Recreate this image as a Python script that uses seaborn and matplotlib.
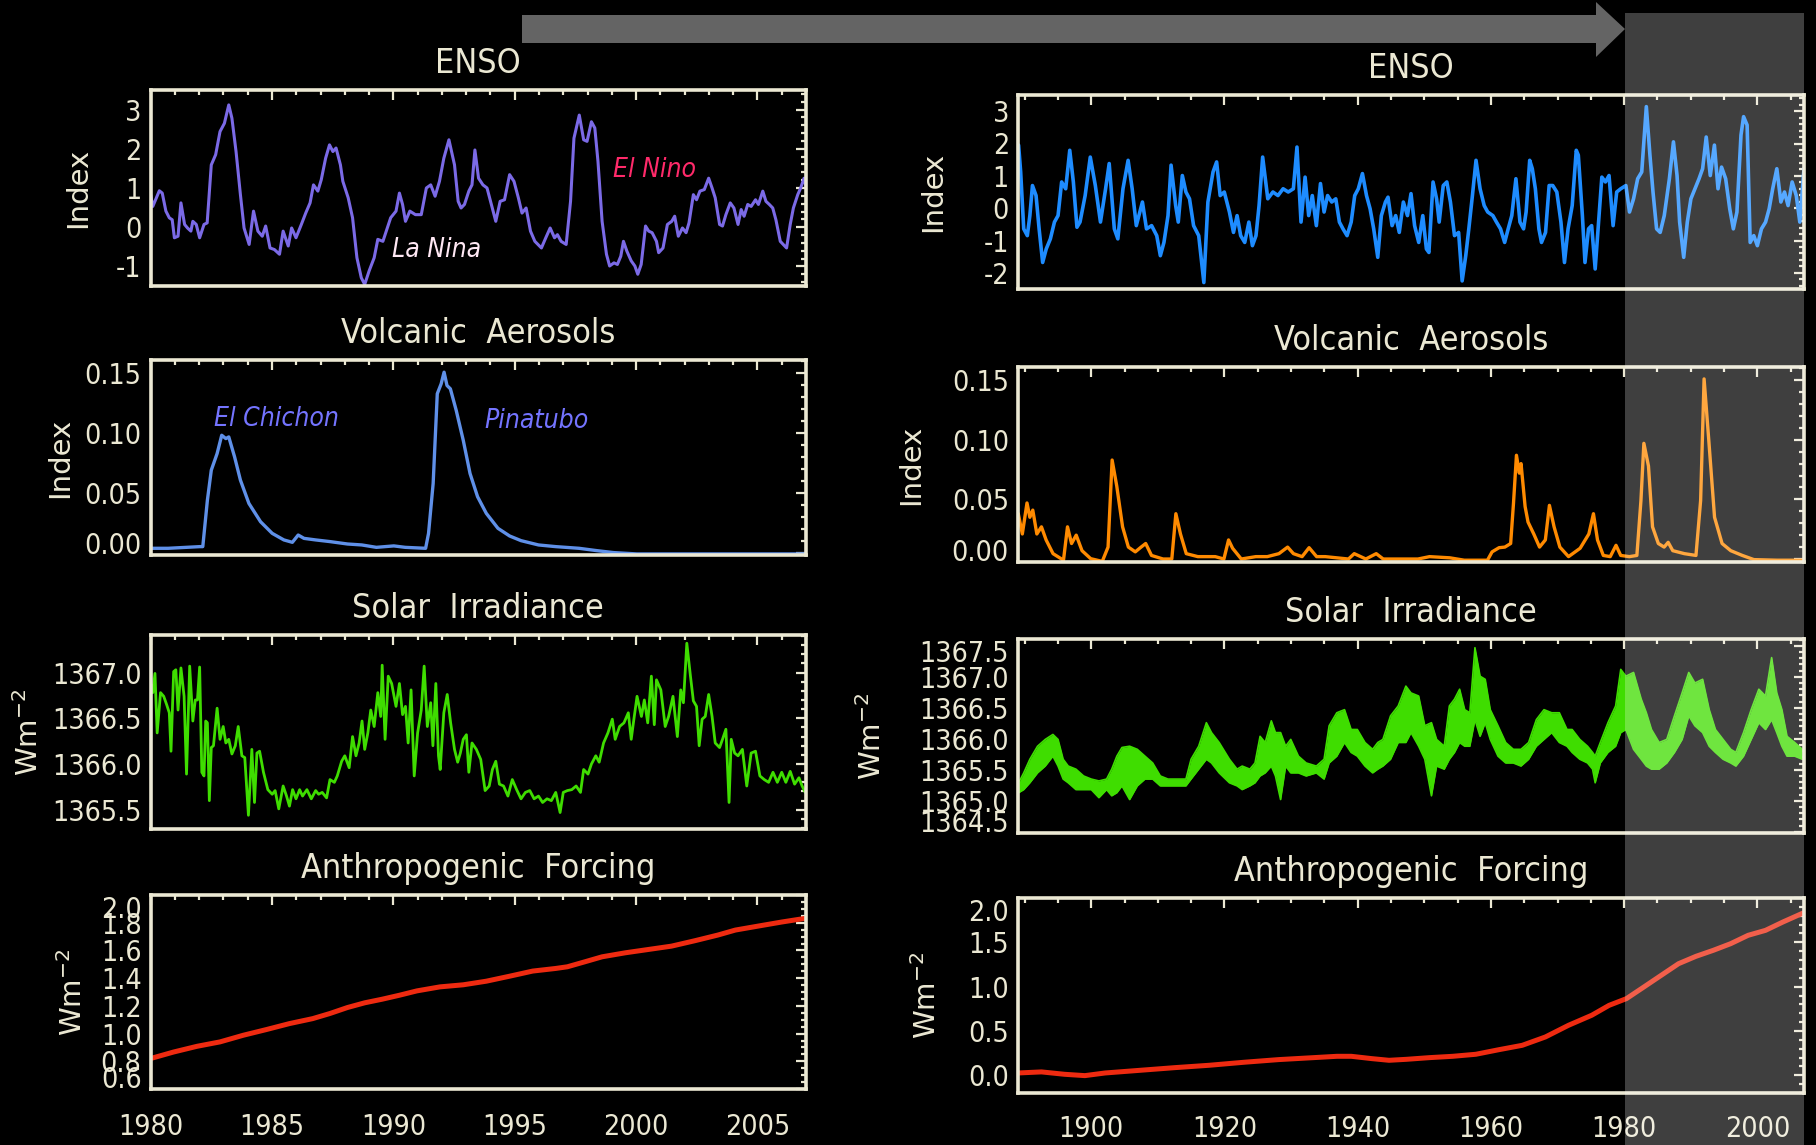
import matplotlib
matplotlib.use("Agg")
import matplotlib.pyplot as plt
from matplotlib import font_manager as fm
from matplotlib.patches import Rectangle, Polygon
from matplotlib.transforms import ScaledTranslation
from matplotlib.ticker import MultipleLocator, FixedLocator, FormatStrFormatter
import seaborn as sns

# ---------------------------------------------------------------- data
# ENSO index, 1980-2007
enso80_year = [1980.00, 1980.09, 1980.36, 1980.48, 1980.63, 1980.77, 1980.89, 1980.98, 1981.13, 1981.25,
               1981.40, 1981.52, 1981.66, 1981.74, 1981.88, 1982.02, 1982.20, 1982.33, 1982.50, 1982.68,
               1982.86, 1983.04, 1983.22, 1983.35, 1983.52, 1983.70, 1983.85, 1984.06, 1984.24, 1984.42,
               1984.60, 1984.74, 1984.92, 1985.10, 1985.31, 1985.46, 1985.67, 1985.81, 1985.99, 1986.21,
               1986.39, 1986.57, 1986.71, 1986.89, 1987.03, 1987.21, 1987.37, 1987.51, 1987.64, 1987.82,
               1987.92, 1988.14, 1988.32, 1988.50, 1988.68, 1988.82, 1989.00, 1989.21, 1989.36, 1989.57,
               1989.71, 1989.89, 1990.11, 1990.25, 1990.38, 1990.50, 1990.68, 1990.91, 1991.15, 1991.36,
               1991.54, 1991.72, 1991.90, 1992.08, 1992.29, 1992.52, 1992.67, 1992.79, 1992.93, 1993.11,
               1993.24, 1993.36, 1993.51, 1993.69, 1993.86, 1994.04, 1994.22, 1994.40, 1994.58, 1994.79,
               1994.97, 1995.15, 1995.30, 1995.47, 1995.65, 1995.83, 1996.10, 1996.28, 1996.46, 1996.64,
               1996.76, 1996.91, 1997.12, 1997.30, 1997.44, 1997.66, 1997.84, 1997.98, 1998.16, 1998.30,
               1998.43, 1998.60, 1998.78, 1998.91, 1999.09, 1999.23, 1999.37, 1999.48, 1999.62, 1999.80,
               1999.95, 2000.07, 2000.21, 2000.39, 2000.52, 2000.66, 2000.84, 2000.93, 2001.11, 2001.29,
               2001.47, 2001.59, 2001.74, 2001.91, 2002.06, 2002.18, 2002.36, 2002.49, 2002.63, 2002.81,
               2002.99, 2003.13, 2003.26, 2003.44, 2003.56, 2003.70, 2003.88, 2004.03, 2004.20, 2004.33,
               2004.45, 2004.60, 2004.74, 2004.92, 2005.04, 2005.22, 2005.35, 2005.49, 2005.63, 2005.76,
               2005.94, 2006.06, 2006.20, 2006.35, 2006.48, 2006.66, 2006.78, 2006.92, 2007.00]
enso80_index = [0.83, 0.53, 0.93, 0.87, 0.41, 0.24, 0.19, -0.27, -0.23, 0.62,
                0.07, -0.02, -0.10, 0.15, 0.07, -0.27, 0.07, 0.11, 1.59, 1.85,
                2.44, 2.65, 3.12, 2.78, 1.93, 0.83, -0.02, -0.44, 0.41, -0.10,
                -0.23, 0.03, -0.53, -0.57, -0.69, -0.10, -0.48, -0.02, -0.27, 0.07,
                0.36, 0.62, 1.08, 0.92, 1.21, 1.76, 2.10, 1.93, 2.02, 1.59,
                1.17, 0.75, 0.24, -0.78, -1.29, -1.46, -1.12, -0.78, -0.31, -0.36,
                -0.10, 0.24, 0.41, 0.87, 0.58, 0.15, 0.41, 0.32, 0.32, 1.00,
                1.08, 0.79, 1.17, 1.76, 2.23, 1.59, 0.66, 0.49, 0.58, 0.92,
                1.08, 1.97, 1.25, 1.08, 1.00, 0.58, 0.15, 0.66, 0.70, 1.34,
                1.17, 0.75, 0.36, 0.49, -0.10, -0.36, -0.53, -0.27, -0.02, -0.27,
                -0.19, -0.36, -0.44, 0.66, 2.27, 2.86, 2.23, 2.19, 2.69, 2.53,
                1.68, 0.15, -0.69, -0.99, -0.91, -0.95, -0.74, -0.36, -0.61, -0.86,
                -0.99, -1.20, -0.95, 0.03, -0.10, -0.14, -0.36, -0.65, -0.53, 0.07,
                0.15, 0.28, -0.23, -0.02, -0.14, 0.11, 0.83, 0.70, 0.92, 0.96,
                1.25, 1.00, 0.75, 0.07, 0.03, 0.32, 0.62, 0.49, 0.07, 0.45,
                0.28, 0.58, 0.53, 0.70, 0.58, 0.92, 0.66, 0.58, 0.49, 0.19,
                -0.36, -0.44, -0.53, 0.07, 0.49, 0.83, 1.00, 1.25, 1.04]

# Volcanic aerosol index, 1980-2007
volc80_year = [1980.00, 1980.72, 1982.03, 1982.15, 1982.34, 1982.50, 1982.74, 1982.93, 1983.10, 1983.22,
               1983.46, 1983.70, 1984.05, 1984.53, 1985.01, 1985.49, 1985.84, 1986.08, 1986.32, 1986.80,
               1987.39, 1988.11, 1988.70, 1989.30, 1990.02, 1990.49, 1991.33, 1991.45, 1991.64, 1991.81,
               1991.97, 1992.09, 1992.21, 1992.35, 1992.59, 1992.88, 1993.16, 1993.47, 1993.83, 1994.31,
               1994.79, 1995.26, 1995.98, 1996.69, 1997.65, 1998.36, 1999.08, 2000.03, 2007.00]
volc80_index = [0.0036, 0.0036, 0.0050, 0.0050, 0.0439, 0.0689, 0.0828, 0.0981, 0.0953, 0.0967,
                0.0800, 0.0606, 0.0411, 0.0258, 0.0161, 0.0106, 0.0086, 0.0147, 0.0119, 0.0106,
                0.0092, 0.0072, 0.0064, 0.0044, 0.0056, 0.0044, 0.0036, 0.0161, 0.0578, 0.1328,
                0.1411, 0.1508, 0.1397, 0.1369, 0.1189, 0.0939, 0.0661, 0.0467, 0.0328, 0.0203,
                0.0139, 0.0100, 0.0064, 0.0050, 0.0036, 0.0017, 0.0000, -0.0011, -0.0011]

# Total solar irradiance (W m-2), 1980-2007
solar80_year = [1980.00, 1980.09, 1980.18, 1980.27, 1980.41, 1980.54, 1980.66, 1980.77, 1980.84, 1980.95,
                1981.04, 1981.13, 1981.25, 1981.38, 1981.48, 1981.61, 1981.74, 1981.84, 1981.93, 1982.02,
                1982.11, 1982.20, 1982.27, 1982.34, 1982.42, 1982.50, 1982.59, 1982.74, 1982.86, 1982.99,
                1983.10, 1983.22, 1983.35, 1983.49, 1983.61, 1983.76, 1983.88, 1984.03, 1984.17, 1984.28,
                1984.38, 1984.49, 1984.65, 1984.83, 1985.01, 1985.13, 1985.28, 1985.46, 1985.60, 1985.72,
                1985.85, 1985.99, 1986.14, 1986.26, 1986.44, 1986.62, 1986.80, 1986.92, 1987.07, 1987.25,
                1987.39, 1987.57, 1987.69, 1987.87, 1988.00, 1988.18, 1988.32, 1988.46, 1988.59, 1988.71,
                1988.82, 1988.95, 1989.07, 1989.21, 1989.36, 1989.48, 1989.54, 1989.66, 1989.79, 1989.93,
                1990.11, 1990.25, 1990.38, 1990.50, 1990.61, 1990.73, 1990.86, 1991.00, 1991.15, 1991.27,
                1991.40, 1991.54, 1991.63, 1991.75, 1991.86, 1991.93, 1992.08, 1992.22, 1992.36, 1992.52,
                1992.65, 1992.76, 1992.88, 1993.01, 1993.11, 1993.24, 1993.42, 1993.60, 1993.78, 1993.95,
                1994.08, 1994.22, 1994.37, 1994.54, 1994.72, 1994.90, 1995.08, 1995.26, 1995.44, 1995.62,
                1995.80, 1995.98, 1996.15, 1996.33, 1996.51, 1996.69, 1996.87, 1997.00, 1997.17, 1997.35,
                1997.53, 1997.71, 1997.84, 1998.02, 1998.16, 1998.34, 1998.48, 1998.66, 1998.84, 1999.02,
                1999.14, 1999.32, 1999.50, 1999.68, 1999.80, 1999.91, 2000.04, 2000.22, 2000.34, 2000.48,
                2000.63, 2000.75, 2000.84, 2001.02, 2001.20, 2001.34, 2001.52, 2001.70, 2001.84, 2001.95,
                2002.09, 2002.24, 2002.36, 2002.49, 2002.60, 2002.72, 2002.85, 2002.99, 2003.13, 2003.26,
                2003.44, 2003.56, 2003.70, 2003.83, 2003.92, 2004.06, 2004.20, 2004.38, 2004.56, 2004.74,
                2004.92, 2005.10, 2005.28, 2005.46, 2005.64, 2005.82, 2006.00, 2006.17, 2006.35, 2006.53,
                2006.71, 2006.84, 2006.97]
solar80_tsi = [1366.88, 1366.78, 1366.99, 1366.34, 1366.78, 1366.74, 1366.65, 1366.56, 1366.14, 1367.01,
               1367.03, 1366.59, 1367.05, 1366.74, 1365.89, 1367.07, 1366.47, 1366.70, 1366.70, 1367.06,
               1365.91, 1365.87, 1366.47, 1366.45, 1365.60, 1366.18, 1366.20, 1366.61, 1366.27, 1366.41,
               1366.23, 1366.27, 1366.11, 1366.20, 1366.41, 1366.09, 1366.07, 1365.44, 1366.16, 1365.58,
               1366.12, 1366.14, 1365.91, 1365.72, 1365.67, 1365.71, 1365.51, 1365.76, 1365.65, 1365.54,
               1365.72, 1365.62, 1365.72, 1365.65, 1365.72, 1365.62, 1365.71, 1365.67, 1365.69, 1365.63,
               1365.83, 1365.80, 1365.87, 1366.03, 1366.09, 1365.96, 1366.30, 1366.09, 1366.23, 1366.47,
               1366.16, 1366.34, 1366.59, 1366.41, 1366.78, 1366.52, 1367.08, 1366.27, 1366.96, 1366.88,
               1366.63, 1366.88, 1366.54, 1366.63, 1366.23, 1366.81, 1365.87, 1366.34, 1366.59, 1367.07,
               1366.41, 1366.67, 1366.20, 1366.88, 1366.09, 1365.94, 1366.56, 1366.76, 1366.45, 1366.16,
               1366.02, 1366.12, 1366.27, 1366.32, 1365.91, 1366.23, 1366.16, 1366.05, 1365.71, 1365.76,
               1365.94, 1366.03, 1365.78, 1365.76, 1365.65, 1365.83, 1365.72, 1365.62, 1365.69, 1365.71,
               1365.62, 1365.65, 1365.58, 1365.62, 1365.60, 1365.69, 1365.47, 1365.69, 1365.71, 1365.72,
               1365.76, 1365.69, 1365.94, 1365.89, 1366.00, 1366.09, 1366.02, 1366.23, 1366.34, 1366.49,
               1366.27, 1366.41, 1366.45, 1366.56, 1366.27, 1366.49, 1366.74, 1366.52, 1366.70, 1366.45,
               1366.96, 1366.43, 1366.92, 1366.81, 1366.41, 1366.52, 1366.74, 1366.30, 1366.81, 1366.67,
               1367.32, 1366.96, 1366.69, 1366.63, 1366.20, 1366.49, 1366.52, 1366.76, 1366.52, 1366.23,
               1366.18, 1366.27, 1366.38, 1365.58, 1366.27, 1366.12, 1366.09, 1366.16, 1365.76, 1366.12,
               1366.14, 1365.87, 1365.83, 1365.80, 1365.91, 1365.80, 1365.91, 1365.80, 1365.92, 1365.78,
               1365.85, 1365.76, 1365.69]

# Anthropogenic forcing (W m-2), 1980-2007
anth80_year = [1980.00, 1980.95, 1981.91, 1982.86, 1983.82, 1984.77, 1985.72, 1986.68, 1987.39, 1988.11,
               1988.82, 1989.54, 1990.26, 1990.97, 1991.92, 1992.88, 1993.83, 1994.79, 1995.74, 1996.69,
               1997.17, 1997.89, 1998.60, 1999.56, 2000.51, 2001.46, 2002.42, 2003.37, 2004.09, 2005.04,
               2006.00, 2006.95]
anth80_forcing = [0.820, 0.867, 0.908, 0.940, 0.988, 1.029, 1.072, 1.108, 1.145, 1.188,
                  1.222, 1.248, 1.277, 1.308, 1.337, 1.352, 1.378, 1.414, 1.451, 1.470,
                  1.482, 1.518, 1.554, 1.583, 1.607, 1.631, 1.670, 1.711, 1.747, 1.776,
                  1.805, 1.831]

# ENSO index, 1889-2007
enso_year = [1889.09, 1889.40, 1889.86, 1890.40, 1890.78, 1891.17, 1891.71, 1892.17, 1892.70, 1893.24,
             1893.86, 1894.47, 1895.01, 1895.55, 1896.16, 1896.77, 1897.31, 1897.85, 1898.31, 1899.08,
             1899.85, 1900.61, 1901.38, 1902.15, 1902.69, 1903.46, 1903.99, 1904.76, 1905.53, 1906.14,
             1906.76, 1907.68, 1908.29, 1909.06, 1909.83, 1910.37, 1910.91, 1911.52, 1911.98, 1912.67,
             1913.06, 1913.67, 1914.21, 1914.75, 1915.36, 1916.13, 1916.90, 1917.51, 1918.28, 1918.82,
             1919.35, 1919.97, 1920.74, 1921.35, 1921.89, 1922.43, 1923.04, 1923.66, 1924.19, 1924.73,
             1925.19, 1925.73, 1926.50, 1927.27, 1928.03, 1928.80, 1929.57, 1930.34, 1930.88, 1931.49,
             1932.10, 1932.64, 1933.18, 1933.79, 1934.41, 1934.95, 1935.48, 1936.10, 1936.71, 1937.25,
             1937.79, 1938.40, 1939.02, 1939.55, 1940.09, 1940.71, 1941.32, 1941.86, 1942.40, 1943.01,
             1943.55, 1944.16, 1944.55, 1945.16, 1945.70, 1946.24, 1946.85, 1947.47, 1948.00, 1948.54,
             1949.16, 1949.77, 1950.31, 1950.69, 1951.31, 1951.84, 1952.23, 1952.84, 1953.38, 1953.92,
             1954.53, 1955.15, 1955.68, 1956.22, 1956.68, 1957.22, 1957.76, 1958.37, 1958.99, 1959.52,
             1960.29, 1960.83, 1961.44, 1962.06, 1962.59, 1963.13, 1963.75, 1964.36, 1964.90, 1965.28,
             1965.82, 1966.21, 1966.67, 1967.20, 1967.59, 1968.20, 1968.74, 1969.28, 1969.89, 1970.51,
             1971.04, 1971.58, 1972.20, 1972.81, 1973.12, 1973.73, 1974.12, 1974.65, 1975.12, 1975.65,
             1976.19, 1976.65, 1977.19, 1977.73, 1978.34, 1978.88, 1979.49, 1980.26, 1980.80, 1981.41,
             1982.03, 1982.64, 1983.33, 1983.87, 1984.33, 1984.87, 1985.41, 1986.02, 1986.79, 1987.40,
             1987.94, 1988.33, 1988.94, 1989.48, 1990.02, 1990.63, 1991.24, 1991.78, 1992.32, 1992.93,
             1993.55, 1994.09, 1994.62, 1995.24, 1995.85, 1996.39, 1996.93, 1997.54, 1997.93, 1998.46,
             1998.92, 1999.46, 2000.00, 2000.61, 2001.23, 2001.77, 2002.30, 2002.92, 2003.53, 2004.07,
             2004.61, 2005.22, 2005.84, 2006.37, 2007.00]
enso_index = [1.95, 1.12, -0.64, -0.85, -0.23, 0.70, 0.39, -0.64, -1.68, -1.26,
              -0.95, -0.43, -0.23, 0.81, 0.60, 1.79, 0.81, -0.59, -0.43, 0.39,
              1.58, 0.70, -0.43, 0.60, 1.38, -0.64, -0.95, 0.60, 1.48, 0.60,
              -0.54, 0.19, -0.64, -0.54, -0.85, -1.47, -1.06, -0.23, 1.33, 0.08,
              -0.43, 1.01, 0.50, 0.29, -0.54, -0.85, -2.30, 0.19, 1.12, 1.43,
              0.39, 0.50, -0.12, -0.75, -0.23, -0.85, -1.06, -0.43, -1.16, -0.85,
              0.08, 1.58, 0.29, 0.50, 0.39, 0.60, 0.50, 0.60, 1.89, -0.43,
              0.96, -0.23, 0.39, -0.54, 0.76, -0.12, 0.39, 0.19, 0.29, -0.43,
              -0.64, -0.85, -0.43, 0.39, 0.60, 1.07, 0.39, -0.02, -0.64, -1.52,
              -0.23, 0.19, 0.34, -0.54, -0.23, -0.75, 0.19, -0.23, 0.45, -0.54,
              -1.06, -0.23, -1.26, -1.37, 0.81, 0.29, -0.43, 0.70, 0.81, 0.19,
              -0.85, -0.75, -2.25, -1.47, -0.64, 0.39, 1.48, 0.60, 0.08, -0.12,
              -0.23, -0.43, -0.64, -1.06, -0.64, -0.23, 0.91, -0.43, -0.64, -0.12,
              1.48, 1.22, 0.60, -0.64, -1.06, -0.75, 0.70, 0.70, 0.50, -0.43,
              -1.68, -0.64, 0.08, 1.79, 1.64, -0.23, -1.68, -0.64, -0.54, -1.88,
              -0.33, 0.96, 0.81, 1.01, -0.54, 0.50, 0.60, 0.70, -0.12, 0.29,
              0.91, 1.12, 3.14, 1.64, 0.50, -0.64, -0.75, -0.23, 0.91, 2.05,
              1.01, -0.43, -1.52, -0.43, 0.29, 0.60, 0.91, 1.22, 2.20, 1.01,
              1.95, 0.60, 1.27, 0.91, -0.02, -0.64, -0.12, 2.26, 2.83, 2.57,
              -1.06, -0.85, -1.16, -0.64, -0.43, -0.02, 0.60, 1.22, 0.19, 0.50,
              0.08, 0.81, 0.39, -0.43, 1.22]

# Volcanic aerosol index, 1889-2007
volc_year = [1889.04, 1889.65, 1890.35, 1890.78, 1891.22, 1891.83, 1892.52, 1893.22, 1894.26, 1895.83,
             1896.43, 1897.04, 1897.74, 1898.61, 1899.91, 1901.65, 1902.52, 1903.13, 1903.83, 1904.70,
             1905.57, 1906.61, 1907.48, 1908.17, 1909.04, 1910.78, 1912.09, 1912.70, 1913.39, 1914.26,
             1916.00, 1917.74, 1918.61, 1919.91, 1920.61, 1921.22, 1922.52, 1924.70, 1926.43, 1928.17,
             1929.48, 1930.35, 1931.65, 1932.70, 1933.83, 1935.13, 1938.61, 1939.48, 1941.22, 1942.78,
             1943.83, 1949.04, 1950.78, 1953.83, 1956.00, 1959.48, 1960.17, 1961.22, 1962.09, 1962.96,
             1963.39, 1963.83, 1964.26, 1964.52, 1965.13, 1965.57, 1966.43, 1967.30, 1968.17, 1968.78,
             1969.48, 1970.35, 1971.65, 1973.39, 1974.70, 1975.39, 1976.00, 1976.87, 1977.91, 1978.78,
             1979.48, 1980.78, 1981.91, 1982.52, 1982.96, 1983.65, 1984.26, 1985.13, 1986.00, 1986.61,
             1987.30, 1989.04, 1990.78, 1991.48, 1992.00, 1992.70, 1993.57, 1994.70, 1996.00, 1997.74,
             1999.48, 2002.96, 2007.00]
volc_index = [0.038, 0.021, 0.047, 0.035, 0.041, 0.021, 0.027, 0.016, 0.0045, -0.001,
              0.027, 0.013, 0.020, 0.007, 0.0003, -0.002, 0.010, 0.083, 0.061, 0.027,
              0.010, 0.006, 0.010, 0.013, 0.003, 0.000, 0.000, 0.038, 0.021, 0.0045,
              0.002, 0.002, 0.002, 0.000, 0.016, 0.009, 0.000, 0.002, 0.002, 0.0045,
              0.010, 0.0045, 0.002, 0.0095, 0.002, 0.002, 0.000, 0.0045, 0.000, 0.0045,
              0.000, 0.000, 0.002, 0.001, -0.001, -0.001, 0.006, 0.0095, 0.010, 0.013,
              0.047, 0.087, 0.072, 0.080, 0.044, 0.031, 0.021, 0.010, 0.016, 0.045,
              0.027, 0.010, 0.002, 0.009, 0.021, 0.038, 0.016, 0.003, 0.002, 0.0115,
              0.003, 0.002, 0.003, 0.049, 0.097, 0.078, 0.027, 0.013, 0.010, 0.014,
              0.007, 0.0045, 0.003, 0.049, 0.151, 0.100, 0.035, 0.013, 0.007, 0.003,
              -0.0005, -0.001, -0.001]

# Solar irradiance 1889-2007: upper and lower edge of the monthly scatter
solar_year = [1889.09, 1889.86, 1890.78, 1891.93, 1893.09, 1894.24, 1895.01, 1895.78, 1896.54, 1897.70,
              1898.85, 1900.00, 1901.15, 1902.30, 1903.07, 1903.84, 1904.61, 1905.76, 1906.91, 1908.06,
              1909.22, 1910.37, 1911.52, 1913.06, 1914.21, 1914.98, 1916.13, 1917.28, 1918.05, 1919.20,
              1920.74, 1921.89, 1922.66, 1923.81, 1924.58, 1925.34, 1926.11, 1927.03, 1927.65, 1928.42,
              1929.18, 1929.95, 1931.10, 1932.26, 1933.79, 1934.95, 1935.71, 1936.86, 1938.02, 1939.01,
              1939.94, 1941.09, 1942.24, 1943.01, 1943.78, 1944.93, 1946.08, 1947.23, 1948.00, 1949.15,
              1950.07, 1951.07, 1951.84, 1952.99, 1953.76, 1954.53, 1955.30, 1956.06, 1956.83, 1957.60,
              1958.37, 1959.14, 1959.90, 1961.06, 1962.21, 1963.36, 1964.51, 1965.66, 1966.82, 1967.97,
              1969.12, 1970.27, 1971.42, 1972.19, 1973.34, 1974.50, 1975.26, 1975.65, 1976.42, 1977.57,
              1978.72, 1979.49, 1980.26, 1981.41, 1982.56, 1983.33, 1984.10, 1985.25, 1986.40, 1987.55,
              1988.70, 1989.70, 1990.62, 1991.78, 1992.77, 1993.70, 1994.85, 1996.00, 1996.77, 1997.92,
              1999.07, 2000.22, 2001.22, 2002.14, 2002.91, 2003.68, 2004.45, 2005.60, 2006.75]
solar_upper = [1365.29, 1365.45, 1365.67, 1365.88, 1365.99, 1366.07, 1365.99, 1365.67, 1365.56, 1365.51,
               1365.40, 1365.35, 1365.32, 1365.35, 1365.51, 1365.72, 1365.86, 1365.88, 1365.83, 1365.72,
               1365.61, 1365.40, 1365.35, 1365.35, 1365.35, 1365.67, 1365.88, 1366.26, 1366.10, 1365.94,
               1365.67, 1365.51, 1365.56, 1365.51, 1365.61, 1366.04, 1365.94, 1366.29, 1366.10, 1366.10,
               1365.88, 1365.99, 1365.72, 1365.61, 1365.56, 1365.67, 1366.21, 1366.42, 1366.47, 1366.15,
               1366.15, 1365.94, 1365.83, 1365.94, 1365.99, 1366.37, 1366.53, 1366.85, 1366.74, 1366.69,
               1366.21, 1366.26, 1365.99, 1365.88, 1366.53, 1366.64, 1366.80, 1366.47, 1366.42, 1367.47,
               1367.01, 1366.96, 1366.47, 1366.21, 1365.94, 1365.83, 1365.83, 1365.94, 1366.31, 1366.47,
               1366.42, 1366.42, 1366.15, 1366.15, 1365.99, 1365.88, 1365.78, 1365.72, 1365.94, 1366.26,
               1366.53, 1367.12, 1367.01, 1367.07, 1366.64, 1366.42, 1366.15, 1365.94, 1365.99, 1366.37,
               1366.74, 1367.07, 1366.90, 1366.96, 1366.47, 1366.15, 1365.99, 1365.83, 1365.78, 1366.10,
               1366.47, 1366.80, 1366.69, 1367.31, 1366.74, 1366.47, 1366.04, 1365.94, 1365.83]
solar_lower = [1365.13, 1365.18, 1365.29, 1365.45, 1365.56, 1365.72, 1365.56, 1365.35, 1365.29, 1365.18,
               1365.18, 1365.18, 1365.05, 1365.18, 1365.08, 1365.13, 1365.24, 1365.02, 1365.24, 1365.35,
               1365.35, 1365.24, 1365.24, 1365.24, 1365.24, 1365.35, 1365.51, 1365.67, 1365.61, 1365.45,
               1365.29, 1365.24, 1365.18, 1365.24, 1365.29, 1365.40, 1365.45, 1365.56, 1365.40, 1365.02,
               1365.56, 1365.45, 1365.45, 1365.40, 1365.45, 1365.35, 1365.61, 1365.72, 1365.94, 1365.78,
               1365.72, 1365.56, 1365.45, 1365.51, 1365.56, 1365.67, 1365.94, 1365.94, 1366.10, 1365.88,
               1365.67, 1365.08, 1365.56, 1365.51, 1365.67, 1365.78, 1365.94, 1365.88, 1365.88, 1366.31,
               1366.04, 1366.26, 1365.99, 1365.72, 1365.61, 1365.61, 1365.56, 1365.67, 1365.88, 1365.99,
               1366.10, 1365.94, 1365.88, 1365.78, 1365.67, 1365.61, 1365.51, 1365.29, 1365.61, 1365.78,
               1365.88, 1366.10, 1366.15, 1365.83, 1365.67, 1365.56, 1365.51, 1365.51, 1365.61, 1365.78,
               1365.99, 1366.37, 1366.21, 1366.10, 1365.88, 1365.78, 1365.67, 1365.61, 1365.56, 1365.72,
               1365.99, 1366.26, 1366.15, 1366.31, 1366.10, 1365.88, 1365.72, 1365.72, 1365.67]

# Anthropogenic forcing (W m-2), 1889-2007
anth_year = [1889.04, 1892.52, 1896.00, 1899.04, 1902.09, 1907.30, 1912.52, 1917.74, 1922.96, 1928.17,
             1933.39, 1936.87, 1939.04, 1942.09, 1944.70, 1947.30, 1950.78, 1954.26, 1957.74, 1961.22,
             1964.70, 1968.17, 1971.65, 1975.13, 1977.74, 1980.35, 1982.96, 1985.57, 1988.17, 1990.78,
             1993.39, 1996.00, 1998.61, 2001.22, 2003.83, 2006.87]
anth_forcing = [0.026, 0.038, 0.011, -0.004, 0.026, 0.056, 0.086, 0.113, 0.147, 0.177,
                0.199, 0.214, 0.214, 0.188, 0.169, 0.180, 0.199, 0.214, 0.237, 0.289,
                0.338, 0.432, 0.564, 0.677, 0.789, 0.865, 0.996, 1.128, 1.259, 1.342,
                1.410, 1.485, 1.579, 1.635, 1.729, 1.831]

# Axis ticks
enso_ticks = [-1, 0, 1, 2, 3]
enso_ticks_long = [-2, -1, 0, 1, 2, 3]
volc_ticks = [0.00, 0.05, 0.10, 0.15]
solar80_ticks = [1365.5, 1366.0, 1366.5, 1367.0]
solar_ticks = [1364.5, 1365.0, 1365.5, 1366.0, 1366.5, 1367.0, 1367.5]
anth80_ticks = [0.6, 0.8, 1.0, 1.2, 1.4, 1.6, 1.8, 2.0]
anth_ticks = [0.0, 0.5, 1.0, 1.5, 2.0]
year80_ticks = [1980, 1985, 1990, 1995, 2000, 2005]
year_ticks = [1900, 1920, 1940, 1960, 1980, 2000]

# ---------------------------------------------------------------- style
W, H, DPI = 1816, 1145, 100
CREAM = "#ebe8d3"

sns.set_theme(style="dark")
plt.rcParams.update({
    "figure.facecolor": "black",
    "axes.facecolor": "black",
    "savefig.facecolor": "black",
    "axes.edgecolor": CREAM,
    "axes.linewidth": 2.4,
    "axes.grid": False,
    "text.color": CREAM,
    "axes.labelcolor": CREAM,
    "xtick.color": CREAM,
    "ytick.color": CREAM,
    "mathtext.fontset": "dejavusans",
})

names = {f.name for f in fm.fontManager.ttflist}
if "Liberation Sans Narrow" in names:
    NARROW = dict(family="Liberation Sans Narrow")
else:
    NARROW = dict(family="DejaVu Sans", stretch="condensed")
plt.rcParams["font.family"] = ["DejaVu Sans"]

TICK_PT = 20.5
TITLE_PT = 24.5
LABEL_PT = 21

fig = plt.figure(figsize=(W / DPI, H / DPI), dpi=DPI)


def add_panel(box, x, y, color, lw, xlim, ylim, yticks, yfmt, yminor,
              xticks, xminor, title, ylabel, ylabel_x, show_x, xpad):
    x0, y0, x1, y1 = box
    ax = fig.add_axes([x0 / W, 1 - y1 / H, (x1 - x0) / W, (y1 - y0) / H])
    if y is not None:
        sns.lineplot(x=x, y=y, ax=ax, color=color, lw=lw,
                     estimator=None, sort=False, legend=False)
    ax.set_xlim(*xlim)
    ax.set_ylim(*ylim)
    ax.xaxis.set_major_locator(FixedLocator(xticks))
    ax.xaxis.set_minor_locator(MultipleLocator(xminor))
    ax.yaxis.set_major_locator(FixedLocator(yticks))
    ax.yaxis.set_minor_locator(MultipleLocator(yminor))
    ax.yaxis.set_major_formatter(FormatStrFormatter(yfmt))
    ax.xaxis.set_major_formatter(FormatStrFormatter("%d"))
    ax.tick_params(which="both", direction="in", top=True, right=True,
                   colors=CREAM, width=1.6)
    ax.tick_params(which="major", length=7.5)
    ax.tick_params(which="minor", length=3.8)
    ax.tick_params(axis="y", pad=6.5, labelsize=TICK_PT)
    ax.tick_params(axis="x", pad=xpad, labelsize=TICK_PT, labelbottom=show_x)
    for lab in ax.get_yticklabels() + ax.get_xticklabels():
        lab.set(**NARROW)
    for s in ax.spines.values():
        s.set_color(CREAM)
        s.set_linewidth(2.6)
    ax.set_xlabel("")
    ax.set_ylabel(ylabel, fontsize=LABEL_PT, color=CREAM, family="DejaVu Sans")
    ax.yaxis.set_label_coords((ylabel_x - x0) / (x1 - x0), 0.5)
    ax.yaxis.label.set_va("center")
    ax.set_title(title, fontsize=TITLE_PT, color=CREAM, pad=12.5, **NARROW)

    # keep labels of ticks sitting on the frame edge inside the frame
    hpx = y1 - y0
    lo, hi = ylim
    for lab, v in zip(ax.get_yticklabels(), yticks):
        d_top = (hi - v) / (hi - lo) * hpx
        d_bot = (v - lo) / (hi - lo) * hpx
        dy = 0.0
        if d_top < 12:
            dy = -(12 - d_top)
        elif d_bot < 12:
            dy = 12 - d_bot
        if dy:
            lab.set_transform(lab.get_transform() +
                              ScaledTranslation(0, dy / DPI, fig.dpi_scale_trans))
    return ax


LX0, LX1 = 150.6, 806.0
RX0, RX1 = 1018.0, 1804.0
L80 = (1980, 2007)
LLONG = (1889, 2007)

# left column: 1980-2007
ax1 = add_panel((LX0, 90, LX1, 286), enso80_year, enso80_index, "#7b6ae6", 2.2,
                L80, (-1.5, 3.5), enso_ticks, "%d", 0.2, year80_ticks, 1,
                "ENSO", "Index", 78, False, 17)
ax2 = add_panel((LX0, 360, LX1, 555), volc80_year, volc80_index, "#5f90e8", 2.4,
                L80, (-0.002, 0.161), volc_ticks, "%.2f", 0.01, year80_ticks, 1,
                "Volcanic  Aerosols", "Index", 60, False, 17)
ax3 = add_panel((LX0, 635, LX1, 829), solar80_year, solar80_tsi, "#3fdd00", 2.0,
                L80, (1365.29, 1367.41), solar80_ticks, "%.1f", 0.1, year80_ticks, 1,
                "Solar  Irradiance", r"Wm$^{-2}$", 29, False, 17)
ax4 = add_panel((LX0, 895, LX1, 1089), anth80_year, anth80_forcing, "#ee2a10", 3.6,
                L80, (0.6, 2.0), anth80_ticks, "%.1f", 0.05, year80_ticks, 1,
                "Anthropogenic  Forcing", r"Wm$^{-2}$", 73, True, 17)

# right column: 1889-2007
ax5 = add_panel((RX0, 95, RX1, 289), enso_year, enso_index, "#1e8cff", 2.6,
                LLONG, (-2.5, 3.5), enso_ticks_long, "%d", 0.2, year_ticks, 5,
                "ENSO", "Index", 933, False, 16)
ax6 = add_panel((RX0, 367, RX1, 562), volc_year, volc_index, "#ff8a00", 2.4,
                LLONG, (-0.0025, 0.161), volc_ticks, "%.2f", 0.01, year_ticks, 5,
                "Volcanic  Aerosols", "Index", 911, False, 16)
ax7 = add_panel((RX0, 639, RX1, 833), None, None, "#3fdd00", 1.0,
                LLONG, (1364.48, 1367.61), solar_ticks, "%.1f", 0.1, year_ticks, 5,
                "Solar  Irradiance", r"Wm$^{-2}$", 872, False, 16)
ax7.fill_between(solar_year, solar_lower, solar_upper, color="#3fdd00", lw=0)
sns.lineplot(x=solar_year, y=solar_upper, ax=ax7, color="#3fdd00", lw=1.2,
             estimator=None, sort=False, legend=False)
sns.lineplot(x=solar_year, y=solar_lower, ax=ax7, color="#3fdd00", lw=1.2,
             estimator=None, sort=False, legend=False)
ax7.set_xlabel("")
ax7.set_ylabel(r"Wm$^{-2}$", fontsize=LABEL_PT, color=CREAM, family="DejaVu Sans")
ax8 = add_panel((RX0, 898, RX1, 1093), anth_year, anth_forcing, "#ee2a10", 3.6,
                LLONG, (-0.2, 2.0), anth_ticks, "%.1f", 0.1, year_ticks, 5,
                "Anthropogenic  Forcing", r"Wm$^{-2}$", 927, True, 16)

# event labels
ax1.text(2000.76, 1.47, "El Nino", color="#ff2a6a", fontsize=19, style="italic",
         ha="center", va="center", **NARROW)
ax1.text(1991.76, -0.57, "La Nina", color="#ffe8f4", fontsize=19, style="italic",
         ha="center", va="center", **NARROW)
ax2.text(1985.2, 0.112, "El Chichon", color="#7474ff", fontsize=19, style="italic",
         ha="center", va="center", **NARROW)
ax2.text(1995.9, 0.110, "Pinatubo", color="#7474ff", fontsize=19, style="italic",
         ha="center", va="center", **NARROW)

# arrow along the top and the shaded satellite era
arrow_px = [(522, 15), (1596, 15), (1596, 2), (1625, 29), (1596, 57), (1596, 43), (522, 43)]
fig.add_artist(Polygon([(px / W, 1 - py / H) for px, py in arrow_px], closed=True,
                       transform=fig.transFigure, facecolor="#646464",
                       edgecolor="none", zorder=50))
fig.add_artist(Rectangle((1625 / W, 0), (1804 - 1625) / W, (1145 - 13) / H,
                         transform=fig.transFigure, facecolor="white", alpha=0.25,
                         edgecolor="none", zorder=100))

fig.savefig("out.png", dpi=DPI, facecolor="black")
